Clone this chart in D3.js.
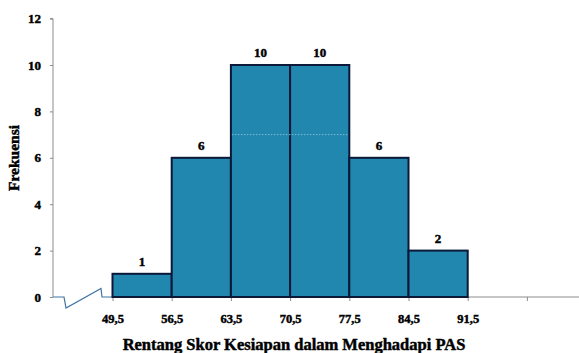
<!DOCTYPE html>
<html>
<head>
<meta charset="utf-8">
<script src="https://cdn.jsdelivr.net/npm/d3@7"></script>
<style>
  html, body { margin: 0; padding: 0; background: #fff; }
  svg { display: block; }
</style>
</head>
<body>
<svg id="chart" width="579" height="353"></svg>
<script>
// Frequency distribution of readiness scores (class boundaries and counts)
const binEdges = [49.5, 56.5, 63.5, 70.5, 77.5, 84.5, 91.5];
const frequencies = [1, 6, 10, 10, 6, 2];
const yTicks = [0, 2, 4, 6, 8, 10, 12];
const xTickLabels = ["49,5", "56,5", "63,5", "70,5", "77,5", "84,5", "91,5"];
const extraXTick = [98.5];
const dottedLevel = [7];

const svg = d3.select("#chart");

const x = d3.scaleLinear().domain([49.5, 91.5]).range([112.5, 467.7]);
const y = d3.scaleLinear().domain([0, 12]).range([297, 18.6]);
const axisX0 = 53;

const serif = "'Liberation Serif', 'Times New Roman', serif";
const barFill = "#2187af";
const barStroke = "#0c1838";
const axisColor = "#8c8c8c";

// Heavy bold text helper
function heavy(sel, size) {
  sel.attr("fill", "#000").attr("font-family", serif).attr("font-weight", "bold")
     .attr("font-size", size).attr("stroke", "#000").attr("stroke-width", 0.45);
}

// Y axis
const yAxis = d3.axisLeft(y).tickValues(yTicks).tickSize(3).tickPadding(9).tickFormat(d3.format("d"));
const gy = svg.append("g").attr("transform", `translate(${axisX0},0)`).call(yAxis);
gy.select(".domain").attr("stroke", axisColor).attr("stroke-width", 1).attr("d", `M-3,${y(12)}H0V${y(0)}`);
gy.selectAll(".tick line").attr("stroke", axisColor);
gy.selectAll(".tick text").call(heavy, 13);

// X axis line (from first boundary to the right edge) with ticks at class boundaries
const xAxis = d3.axisBottom(x)
  .tickValues(binEdges.concat(extraXTick))
  .tickSize(4).tickPadding(13)
  .tickFormat((d, i) => i < xTickLabels.length ? xTickLabels[i] : "");
const gx = svg.append("g").attr("transform", `translate(0,${y(0)})`).call(xAxis);
gx.select(".domain").attr("stroke", axisColor).attr("d", `M${x(49.5) - 1},0H579`);
gx.selectAll(".tick line").attr("stroke", axisColor);
gx.selectAll(".tick text").call(heavy, 12.5);

// Axis break between the origin and the first class boundary
const y0 = y(0);
svg.append("path")
  .attr("d", `M${axisX0},${y0}H64L66,${y0 + 11}L101,${y0 - 8.5}L102,${y0}H${x(49.5)}`)
  .attr("fill", "none").attr("stroke", "#3f74a6").attr("stroke-width", 1.2);

// Histogram bars
const bins = frequencies.map((f, i) => ({ x0: binEdges[i], x1: binEdges[i + 1], f }));
svg.append("g").selectAll("rect").data(bins).join("rect")
  .attr("x", d => x(d.x0))
  .attr("y", d => y(d.f))
  .attr("width", d => x(d.x1) - x(d.x0))
  .attr("height", d => y(0) - y(d.f))
  .attr("fill", barFill)
  .attr("stroke", barStroke)
  .attr("stroke-width", 2);

// Faint dotted level across the tallest classes
svg.append("g").selectAll("line").data(dottedLevel).join("line")
  .attr("x1", x(63.5) + 1).attr("x2", x(77.5) - 1)
  .attr("y1", d => y(d)).attr("y2", d => y(d))
  .attr("stroke", "#7fb9d3").attr("stroke-width", 1).attr("stroke-dasharray", "1.5,1.5");

// Frequency labels above bars
svg.append("g").selectAll("text").data(bins).join("text")
  .attr("x", d => (x(d.x0) + x(d.x1)) / 2)
  .attr("y", d => y(d.f) - 8)
  .attr("text-anchor", "middle")
  .call(heavy, 13)
  .text(d => d.f);

// Axis titles
svg.append("text")
  .attr("x", 294).attr("y", 350)
  .attr("text-anchor", "middle")
  .call(heavy, 16.5)
  .text("Rentang Skor Kesiapan dalam Menghadapi PAS");

svg.append("text")
  .attr("transform", "translate(19,158) rotate(-90)")
  .attr("text-anchor", "middle")
  .call(heavy, 15.5)
  .text("Frekuensi");
</script>
</body>
</html>
